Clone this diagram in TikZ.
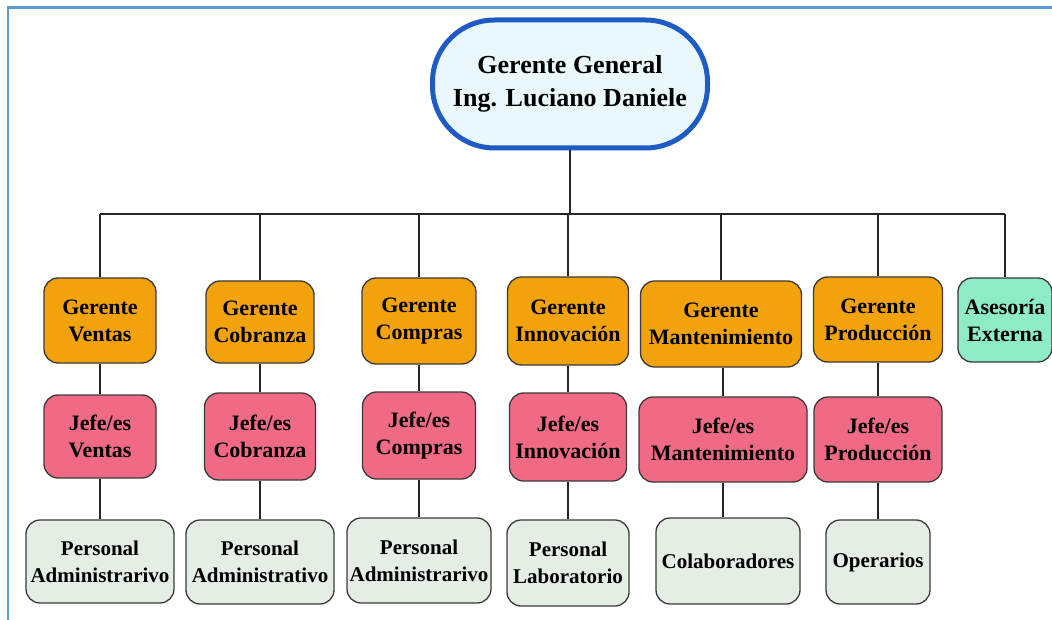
\documentclass[tikz,border=0pt]{standalone}
\usepackage{fontspec}
\setmainfont{Liberation Serif}
\definecolor{frameblue}{HTML}{5B9BD5}
\definecolor{topblue}{HTML}{1E5BC6}
\definecolor{topfill}{HTML}{EAF8FB}
\definecolor{orangeC}{HTML}{F2A20A}
\definecolor{pinkC}{HTML}{F06A86}
\definecolor{greenC}{HTML}{8DEBC5}
\definecolor{grayC}{HTML}{E4EEE4}
\definecolor{edgeC}{HTML}{3A3A3A}
\tikzset{
  box/.style={draw=edgeC, line width=1.3pt, rounded corners=14pt, align=center,
    inner sep=0pt, font=\bfseries\fontsize{22}{27}\selectfont},
  ger/.style={box, fill=orangeC},
  jefe/.style={box, fill=pinkC},
  ext/.style={box, fill=greenC},
  pers/.style={box, fill=grayC, font=\bfseries\fontsize{21}{27}\selectfont},
  conn/.style={draw=black!85, line width=1.3pt},
}
\begin{document}
\begin{tikzpicture}[x=1pt,y=-1pt]
\useasboundingbox (0,0) rectangle (1052,620);
\draw[frameblue, line width=2.5pt] (1052,7.5) -- (8,7.5) -- (8,620);

\node[draw=topblue, fill=topfill, line width=5pt, rounded corners=62pt,
  minimum width=275pt, minimum height=128pt, align=center, inner sep=0pt,
  font=\bfseries\fontsize{26}{33}\selectfont] (top) at (570,84) {Gerente General\\Ing. Luciano Daniele};
\coordinate (bus) at (570,214);

% Gerentes
\node[ger, minimum width=112pt, minimum height=85pt] (g1) at (100,320.5) {Gerente\\Ventas};
\node[ger, minimum width=108pt, minimum height=82pt] (g2) at (260,322) {Gerente\\Cobranza};
\node[ger, minimum width=114pt, minimum height=86pt] (g3) at (419,321) {Gerente\\Compras};
\node[ger, minimum width=121pt, minimum height=88pt] (g4) at (568,321) {Gerente\\Innovación};
\node[ger, minimum width=161pt, minimum height=86pt] (g5) at (721,324) {Gerente\\Mantenimiento};
\node[ger, minimum width=129pt, minimum height=85pt] (g6) at (878,319.5) {Gerente\\Producción};
\node[ext, minimum width=94pt, minimum height=84pt] (ae) at (1005,320) {Asesoría\\Externa};

% Jefes
\node[jefe, minimum width=112pt, minimum height=83pt] (j1) at (100,436.5) {Jefe/es\\Ventas};
\node[jefe, minimum width=111pt, minimum height=87pt] (j2) at (260,436.5) {Jefe/es\\Cobranza};
\node[jefe, minimum width=113pt, minimum height=87pt] (j3) at (419,435.5) {Jefe/es\\Compras};
\node[jefe, minimum width=117pt, minimum height=88pt] (j4) at (568,437) {Jefe/es\\Innovación};
\node[jefe, minimum width=168pt, minimum height=85pt] (j5) at (723,439.5) {Jefe/es\\Mantenimiento};
\node[jefe, minimum width=128pt, minimum height=85pt] (j6) at (878,439.5) {Jefe/es\\Producción};

% Personal
\node[pers, minimum width=148pt, minimum height=83pt] (p1) at (100,561.5) {Personal\\Administrarivo};
\node[pers, minimum width=148pt, minimum height=84pt] (p2) at (260,562) {Personal\\Administrativo};
\node[pers, minimum width=144pt, minimum height=85pt] (p3) at (419,560.5) {Personal\\Administrarivo};
\node[pers, minimum width=122pt, minimum height=86pt] (p4) at (568,563) {Personal\\Laboratorio};
\node[pers, minimum width=144pt, minimum height=86pt] (p5) at (728,561) {Colaboradores};
\node[pers, minimum width=104pt, minimum height=84pt] (p6) at (878,562) {Operarios};

% connectors
\draw[conn] (top.south) -- (bus);
\draw[conn] (g1.north |- bus) -- (ae.north |- bus);
\foreach \n in {g1,g2,g3,g4,g5,g6,ae}{
  \draw[conn] (\n.north |- bus) -- (\n.north);
}
\foreach \i in {1,...,6}{
  \draw[conn] (j\i.north |- g\i.south) -- (j\i.north);
  \draw[conn] (j\i.south) -- (j\i.south |- p\i.north);
}
\end{tikzpicture}
\end{document}
